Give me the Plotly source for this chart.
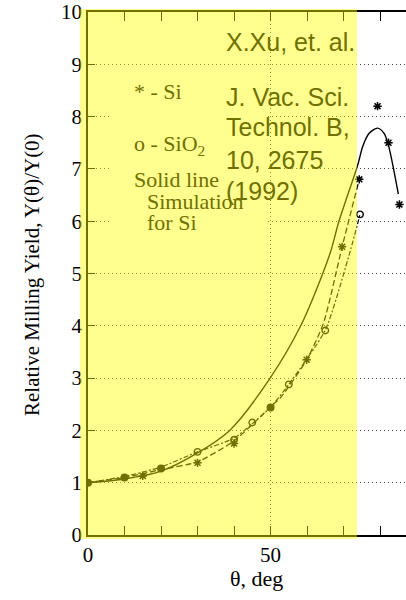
import plotly.graph_objects as go

# ---------------- data ----------------
si_x = [0, 10, 15, 20, 30, 40, 50, 59.9, 69.6, 74.3, 79.3, 82.3, 85.3, 88.2]
si_y = [1.0, 1.10, 1.13, 1.27, 1.38, 1.75, 2.44, 3.35, 5.51, 6.80, 8.20, 7.50, 6.32, 5.74]

sio2_x = [0, 10, 20, 30, 40, 45, 50, 55, 65, 74.5]
sio2_y = [1.0, 1.10, 1.27, 1.59, 1.82, 2.15, 2.44, 2.88, 3.91, 6.13]

# simulation for Si (solid)
sim_x = [0, 10, 20, 30, 38.8, 49.7, 58.4, 64.3, 66.6, 68.7, 73.9, 75.2, 77, 79.3, 81.1, 82.3, 85]
sim_y = [1.0, 1.07, 1.22, 1.57, 2.0, 2.98, 4.02, 5.0, 5.45, 5.99, 7.08, 7.42, 7.68, 7.78, 7.68, 7.45, 6.52]

# dashed fit lines
si_fit_x = [0, 10, 20, 30, 40, 50, 52.9, 59.9, 64.5, 69.6, 74.3]
si_fit_y = [1.0, 1.10, 1.25, 1.40, 1.80, 2.45, 2.64, 3.35, 4.05, 5.51, 6.80]
sio2_fit_x = [0, 10, 20, 30, 40, 45, 50, 55, 65, 71.9, 74.5]
sio2_fit_y = [1.0, 1.12, 1.30, 1.59, 1.85, 2.13, 2.44, 2.88, 3.92, 5.45, 6.13]

y_ticks = list(range(0, 11))
x_major = [0, 50]
x_minor = [10, 20, 30, 40, 60, 70, 80]

# ---------------- layout geometry ----------------
W, H = 406, 600
L, R, T, B = 88, 0, 12, 65
XMAX = 87.1


def pxx(px):
    return (px - L) / (W - L - R)


def pxy(py):
    return (H - B - py) / (H - T - B)


OLIVE = "rgb(112,112,0)"
SERIF = "Liberation Serif"
SANS = "Liberation Sans"

# coincident Si / SiO2 points drawn as filled dots
both = [(x, y) for x, y in zip(si_x, si_y) if (x, y) in set(zip(sio2_x, sio2_y))]
si_only = [(x, y) for x, y in zip(si_x, si_y) if (x, y) not in both]
sio2_only = [(x, y) for x, y in zip(sio2_x, sio2_y) if (x, y) not in both]

fig = go.Figure()

fig.add_trace(go.Scatter(x=sim_x, y=sim_y, mode="lines",
                         line=dict(color="black", width=1.4, shape="spline", smoothing=0.8),
                         hoverinfo="skip"))
fig.add_trace(go.Scatter(x=si_fit_x, y=si_fit_y, mode="lines",
                         line=dict(color="black", width=1.3, dash="6px,3px", shape="spline", smoothing=0.6),
                         hoverinfo="skip"))
fig.add_trace(go.Scatter(x=sio2_fit_x, y=sio2_fit_y, mode="lines",
                         line=dict(color="black", width=1.2, dash="5px,2px,2px,2px", shape="spline", smoothing=0.6),
                         hoverinfo="skip"))

fig.add_trace(go.Scatter(x=[p[0] for p in si_only], y=[p[1] for p in si_only], mode="markers",
                         marker=dict(symbol="asterisk-open", size=7, color="black",
                                     line=dict(color="black", width=1.5)),
                         cliponaxis=False))
fig.add_trace(go.Scatter(x=[p[0] for p in sio2_only], y=[p[1] for p in sio2_only], mode="markers",
                         marker=dict(symbol="circle-open", size=6.5, color="black",
                                     line=dict(color="black", width=1.4))))
fig.add_trace(go.Scatter(x=[p[0] for p in both], y=[p[1] for p in both], mode="markers",
                         marker=dict(symbol="circle", size=8, color="black")))

shapes = [
    # area of the legend text hides the grid
    dict(type="rect", xref="x", yref="y", x0=6, x1=49.3, y0=5.6, y1=8.85,
         fillcolor="white", line=dict(width=0), layer="between"),
    # yellow highlight overlay
    dict(type="rect", xref="paper", yref="paper", x0=pxx(80), x1=pxx(357), y0=pxy(539), y1=pxy(9),
         fillcolor="rgba(255,255,0,0.44)", line=dict(width=0), layer="above"),
]

ann = []


def add_text(text, px, py, size, family, color, xanchor="left", angle=0):
    ann.append(dict(text=text, xref="paper", yref="paper", x=pxx(px), y=pxy(py),
                    xanchor=xanchor, yanchor="middle", showarrow=False, textangle=angle,
                    font=dict(family=family, size=size, color=color)))


add_text("* - Si", 132, 92, 22, SERIF, OLIVE)
add_text("o - SiO<sub>2</sub>", 132, 145, 22, SERIF, OLIVE)
add_text("Solid line", 132, 179, 22, SERIF, OLIVE)
add_text("Simulation", 145, 201, 22, SERIF, OLIVE)
add_text("for Si", 145, 222, 22, SERIF, OLIVE)

add_text("X.Xu, et. al.", 224, 42, 25, SANS, OLIVE)
add_text("J. Vac. Sci.", 224, 97, 25, SANS, OLIVE)
add_text("Technol. B,", 224, 127, 25, SANS, OLIVE)
add_text("10, 2675", 224, 160, 25, SANS, OLIVE)
add_text("(1992)", 224, 191, 25, SANS, OLIVE)

add_text("Relative Milling Yield, Y(θ)/Y(0)", 32, 275, 21, SERIF, "black", xanchor="center", angle=-90)
add_text("θ, deg", 256, 578, 22, SERIF, "black", xanchor="center")

fig.update_layout(
    width=W, height=H,
    margin=dict(l=L, r=R, t=T, b=B, pad=0),
    paper_bgcolor="white", plot_bgcolor="white",
    showlegend=False,
    shapes=shapes,
    annotations=ann,
    xaxis=dict(range=[0, XMAX], tickmode="array", tickvals=x_major, ticktext=[str(v) for v in x_major],
               ticks="inside", ticklen=9, tickwidth=1.3, tickcolor="black",
               minor=dict(tickmode="array", tickvals=x_minor, ticks="inside", ticklen=9,
                          tickwidth=1.3, tickcolor="black", showgrid=False),
               showline=True, linecolor="black", linewidth=1.5, mirror="ticks",
               showgrid=True, gridcolor="#444", griddash="1px,3px", gridwidth=1,
               zeroline=False, tickfont=dict(family=SERIF, size=21, color="black")),
    yaxis=dict(range=[0, 10], tickmode="array", tickvals=y_ticks, ticktext=[str(v) for v in y_ticks],
               ticks="inside", ticklen=7, tickwidth=1.3, tickcolor="black",
               showline=True, linecolor="black", linewidth=1.5,
               showgrid=True, gridcolor="#444", griddash="1px,3px", gridwidth=1,
               zeroline=False, tickfont=dict(family=SERIF, size=21, color="black")),
)

fig.write_html("out.html")
